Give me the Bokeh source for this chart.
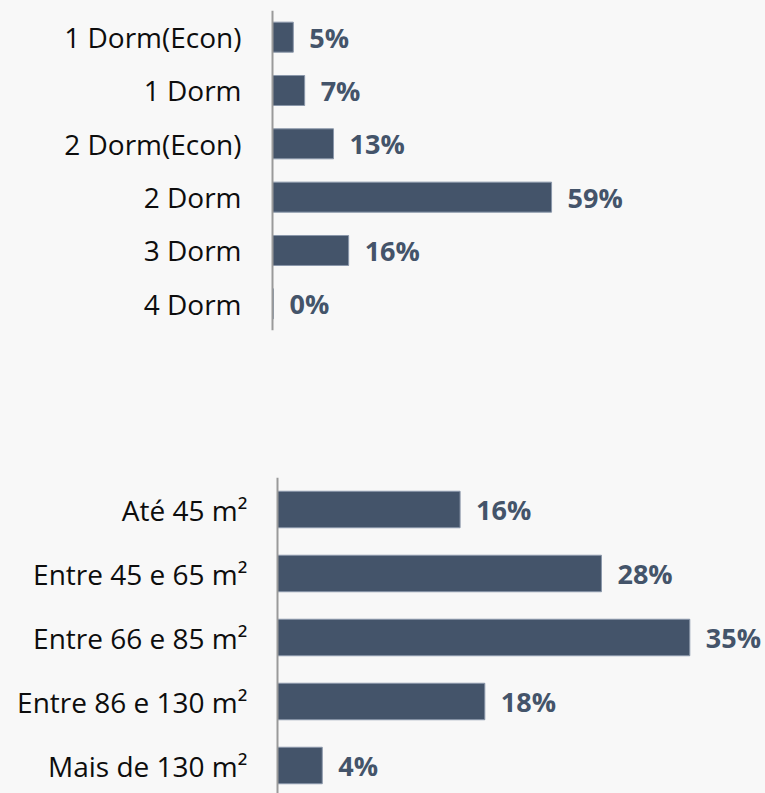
from bokeh.plotting import figure
from bokeh.layouts import column
from bokeh.models import Range1d, FixedTicker, Span
from bokeh.core.properties import value
from bokeh.embed import file_html
from bokeh.resources import INLINE

# ---- data ----
dorm_cats = ["1 Dorm(Econ)", "1 Dorm", "2 Dorm(Econ)", "2 Dorm", "3 Dorm", "4 Dorm"]
dorm_values = [4.4, 6.8, 12.9, 59.0, 16.1, 0.2]
dorm_labels = ["5%", "7%", "13%", "59%", "16%", "0%"]

area_cats = ["Até 45 m²", "Entre 45 e 65 m²", "Entre 66 e 85 m²", "Entre 86 e 130 m²", "Mais de 130 m²"]
area_values = [15.5, 27.5, 35.0, 17.6, 3.8]
area_labels = ["16%", "28%", "35%", "18%", "4%"]

BAR = "#44546a"
BG = "#f8f8f8"
W = 765
LEFT = 268


def make_chart(cats, vals, labels, height, top, bottom, axis_px, standoff,
               px_per_unit, spacing, bar_frac):
    n = len(cats)
    ys = [-i for i in range(n)]
    frame_h = height - top - bottom
    frame_w = W - LEFT
    y_top = 0.5
    y_bot = y_top - frame_h / spacing
    x0 = -(axis_px - LEFT) / px_per_unit
    p = figure(width=W, height=height, output_backend="svg", toolbar_location=None,
               x_range=Range1d(x0, x0 + frame_w / px_per_unit), y_range=Range1d(y_bot, y_top),
               x_axis_location=None, y_axis_location="left",
               min_border_top=top, min_border_bottom=bottom,
               min_border_left=LEFT, min_border_right=0)
    p.background_fill_color = BG
    p.border_fill_color = BG
    p.outline_line_color = None
    p.grid.visible = False
    p.hbar(y=ys, left=0, right=vals, height=bar_frac, fill_color=BAR,
           line_color="#8a97aa", line_width=1)
    p.add_layout(Span(location=0, dimension="height", line_color="#9a9a9a", line_width=2))
    p.text(x=vals, y=ys, text=labels, x_offset=16, text_align="left", text_baseline="middle",
           text_font=value("Open Sans"), text_font_style="bold", text_font_size="27px",
           text_color=BAR)
    ax = p.yaxis[0]
    ax.ticker = FixedTicker(ticks=ys)
    ax.major_label_overrides = {y: c for y, c in zip(ys, cats)}
    ax.major_tick_line_color = None
    ax.minor_tick_line_color = None
    ax.major_tick_out = 0
    ax.major_tick_in = 0
    ax.major_label_standoff = standoff
    ax.axis_line_color = None
    ax.major_label_text_font = "Open Sans"
    ax.major_label_text_font_size = "28px"
    ax.major_label_text_color = "#0d0d0d"
    return p


p1 = make_chart(dorm_cats, dorm_values, dorm_labels, height=400, top=10, bottom=70,
                axis_px=272, standoff=27, px_per_unit=4.73, spacing=53.33, bar_frac=0.5625)
p2 = make_chart(area_cats, area_values, area_labels, height=393, top=77, bottom=0,
                axis_px=277, standoff=21, px_per_unit=11.78, spacing=64.0, bar_frac=0.57)

layout = column(p1, p2, spacing=0)
layout.styles = {"background-color": BG}

open("out.html", "w").write(file_html(layout, INLINE))
